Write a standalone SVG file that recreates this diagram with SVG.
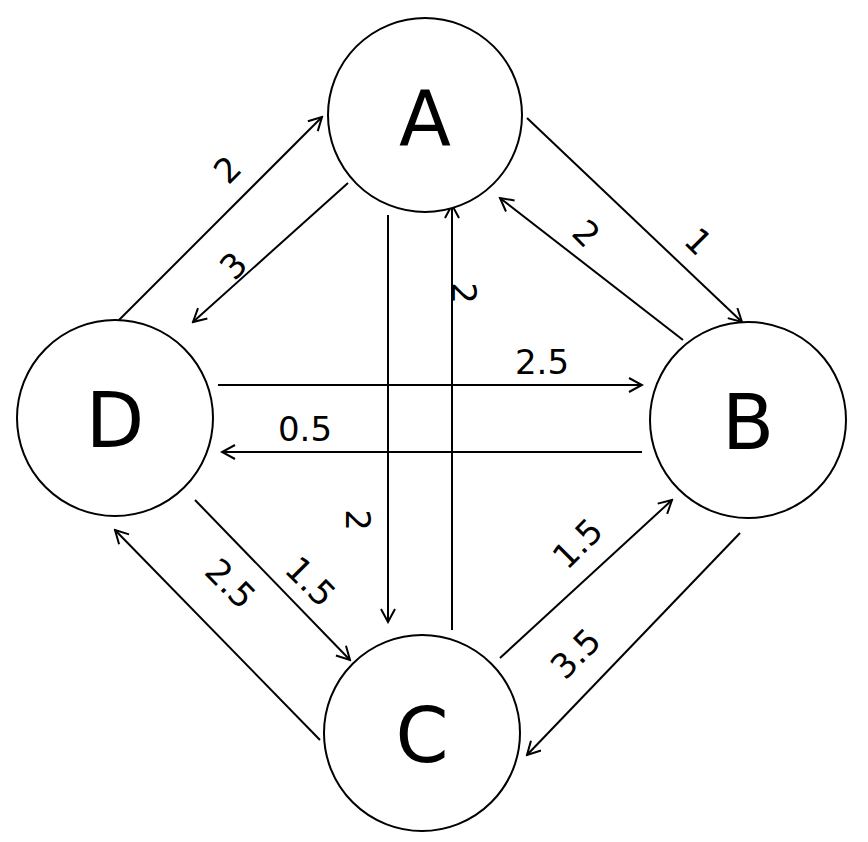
<svg xmlns="http://www.w3.org/2000/svg" width="868" height="842" viewBox="0 0 868 842">
<style>
.n{fill:#fff;stroke:#000;stroke-width:2}
.nt{font-family:"DejaVu Sans",sans-serif;font-size:76px;text-anchor:middle;dominant-baseline:central}
.e{stroke:#000;stroke-width:2;fill:none;marker-end:url(#ah)}
.l{font-family:"DejaVu Sans",sans-serif;font-size:34px;text-anchor:middle}
</style>
<defs><marker id="ah" markerWidth="16" markerHeight="16" refX="14" refY="8" orient="auto" markerUnits="userSpaceOnUse" viewBox="0 0 16 16"><path d="M1,1 L14,8 L1,15" fill="none" stroke="#000" stroke-width="2"/></marker></defs>
<rect width="868" height="842" fill="#fff"/>
<g id="connectors">
<line class="e" x1="527" y1="118" x2="742" y2="322"/>
<line class="e" x1="683" y1="340" x2="500" y2="198"/>
<line class="e" x1="348" y1="183" x2="193" y2="322"/>
<line class="e" x1="117" y1="322" x2="322" y2="117"/>
<line class="e" x1="388" y1="215" x2="388" y2="622"/>
<line class="e" x1="452" y1="630" x2="452" y2="205"/>
<line class="e" x1="218" y1="385" x2="642" y2="385"/>
<line class="e" x1="642" y1="452" x2="222" y2="452"/>
<line class="e" x1="195" y1="500" x2="350" y2="660"/>
<line class="e" x1="320" y1="740" x2="115" y2="530"/>
<line class="e" x1="500" y1="658" x2="672" y2="500"/>
<line class="e" x1="740" y1="533" x2="527" y2="755"/>
<text class="l" transform="translate(236,178) rotate(-45)">2</text>
<text class="l" transform="translate(242,274) rotate(-45)">3</text>
<text class="l" transform="translate(578,242) rotate(45)">2</text>
<text class="l" transform="translate(690,250) rotate(45)">1</text>
<text class="l" transform="translate(452,293) rotate(90)">2</text>
<text class="l" transform="translate(346,520) rotate(90)">2</text>
<text class="l" x="542" y="374">2.5</text>
<text class="l" x="305" y="441">0.5</text>
<text class="l" transform="translate(222,592) rotate(45)">2.5</text>
<text class="l" transform="translate(302,590) rotate(45)">1.5</text>
<text class="l" transform="translate(586,552) rotate(-45)">1.5</text>
<text class="l" transform="translate(584,662) rotate(-45)">3.5</text>
</g>
<g id="A"><circle class="n" cx="425" cy="115" r="97"/><text class="nt" x="425" y="118">A</text></g>
<g id="B"><circle class="n" cx="748" cy="420" r="98"/><text class="nt" x="748" y="422">B</text></g>
<g id="D"><circle class="n" cx="115" cy="418" r="98"/><text class="nt" x="115" y="420">D</text></g>
<g id="C"><circle class="n" cx="422" cy="733" r="98"/><text class="nt" x="422" y="735">C</text></g>
</svg>
